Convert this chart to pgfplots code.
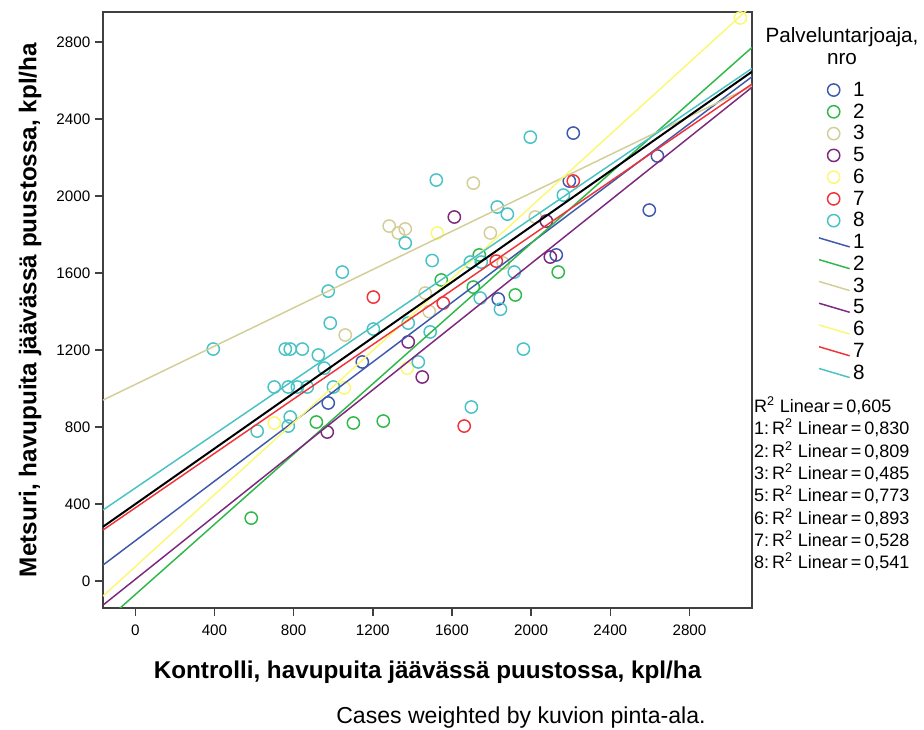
\documentclass[border=0pt]{standalone}
\usepackage{fontspec}
\setmainfont{Liberation Sans}
\usepackage{pgfplots}
\pgfplotsset{compat=1.18}
\definecolor{c1}{HTML}{3E58AC}
\definecolor{c2}{HTML}{2EB848}
\definecolor{c3}{HTML}{D3CE97}
\definecolor{c5}{HTML}{7C287D}
\definecolor{c6}{HTML}{FBF873}
\definecolor{c7}{HTML}{EF3338}
\definecolor{c8}{HTML}{48C2C5}
\definecolor{frame}{HTML}{404040}

% scatter data: kontrolli, metsuri (kpl/ha)
\pgfplotstableread{
x y
2213 2327
2638 2208
2597 1927
2193 2078
2127 1694
1834 1465
1147 1138
975 925
}\nroA
\pgfplotstableread{
x y
2137 1605
1738 1694
1546 1564
1708 1527
1920 1486
915 826
1102 821
1253 831
586 327
}\nroB
\pgfplotstableread{
x y
1283 1844
1329 1808
1364 1829
1708 2067
1794 1808
2021 1891
1859 1652
1465 1496
1061 1278
1485 1400
}\nroC
\pgfplotstableread{
x y
1612 1891
2077 1870
2097 1683
1379 1242
1450 1060
970 774
}\nroE
\pgfplotstableread{
x y
3057 2925
1526 1808
1374 1106
1056 1003
702 821
}\nroF
\pgfplotstableread{
x y
1203 1475
2213 2078
1824 1662
1556 1444
1662 805
}\nroG
\pgfplotstableread{
x y
1996 2306
1521 2083
1364 1756
1046 1605
975 1506
1500 1665
1829 1943
1880 1906
2163 2005
1693 1657
1748 1657
1915 1605
1743 1470
1845 1412
394 1205
758 1205
783 1205
844 1205
985 1340
1203 1309
1379 1340
925 1174
955 1106
1430 1138
702 1008
773 1008
819 1008
869 1008
1001 1008
783 852
773 805
616 779
1490 1294
1961 1205
1698 904
}\nroH

\pgfplotsset{
  pt/.style={only marks, mark=o, mark size=4.6pt, line width=1.1pt, draw=#1,
    legend image code/.code={\draw[##1] plot coordinates {(11pt,0pt)};}},
  fit/.style={#1, line width=1.1pt, no marks,
    legend image code/.code={\draw[##1] (0pt,3.4pt) -- (23pt,-3.4pt);}},
}

\begin{document}
\begin{tikzpicture}
\path[use as bounding box] (-77.25pt,-91.5pt) rectangle (615.75pt,456pt);
\begin{axis}[
  scale only axis,
  width=486.75pt, height=447pt,
  xmin=-163, xmax=3116, ymin=-140, ymax=2956,
  clip mode=individual,
  xtick={0,400,...,2800}, ytick={0,400,...,2800},
  xtick pos=bottom, ytick pos=left,
  tick align=outside, major tick length=6pt,
  tick style={frame, line width=1.1pt},
  axis line style={frame, line width=1.1pt},
  /pgf/number format/1000 sep={},
  /pgf/number format/assume math mode=true,
  tick label style={font=\fontsize{11.4}{13}\selectfont},
  xticklabel style={yshift=-3.5pt},
  xlabel={Kontrolli, havupuita jäävässä puustossa, kpl/ha},
  ylabel={Metsuri, havupuita jäävässä puustossa, kpl/ha},
  xlabel style={font=\bfseries\fontsize{18.2}{22}\selectfont,
    at={(axis description cs:0.5,-0.1074)}, anchor=center},
  ylabel style={font=\bfseries\fontsize{18.2}{22}\selectfont,
    at={(axis description cs:-0.1125,0.5)}, anchor=center},
  legend style={draw=none, fill=none, at={(axis description cs:1.1017,0.8831)},
    anchor=north west, inner sep=0pt, row sep=4.07pt,
    font=\fontsize{15.5}{18}\selectfont,
    nodes={inner xsep=2pt, inner ysep=0pt}},
  legend cell align=left,
]
\addplot[pt=c1] table {\nroA};
\addplot[pt=c2] table {\nroB};
\addplot[pt=c3] table {\nroC};
\addplot[pt=c5] table {\nroE};
\addplot[pt=c6] table {\nroF};
\addplot[pt=c7] table {\nroG};
\addplot[pt=c8] table {\nroH};

% fit lines, read at the axis edges
\addplot[fit=c1] coordinates {(-163,83) (3116,2620)};
\addplot[fit=c2] coordinates {(-163,-219) (3116,2772)};
\addplot[fit=c3] coordinates {(-163,940) (3116,2571)};
\addplot[fit=c5] coordinates {(-163,-125) (3116,2565)};
\addplot[fit=c6] coordinates {(-163,-78) (3116,2990)};
\addplot[fit=c7] coordinates {(-163,265) (3116,2582)};
\addplot[fit=c8] coordinates {(-163,369) (3116,2663)};
\addplot[black, line width=1.5pt, forget plot] coordinates {(-163,282) (3116,2646)};

\legend{1,2,3,5,6,7,8,1,2,3,5,6,7,8}

\node[font=\fontsize{15.5}{16.5}\selectfont, align=center]
  at (axis description cs:1.1387,0.943) {Palveluntarjoaja,\\nro};

\begin{scope}[every node/.style={anchor=west, inner sep=0pt, font=\fontsize{13.5}{16}\selectfont}]
\node at (axis description cs:1.0030,0.3389) {R\textsuperscript{2} Linear\,=\,0,605};
\node at (axis description cs:1.0030,0.3020) {1:\,R\textsuperscript{2} Linear\,=\,0,830};
\node at (axis description cs:1.0030,0.2634) {2:\,R\textsuperscript{2} Linear\,=\,0,809};
\node at (axis description cs:1.0030,0.2265) {3:\,R\textsuperscript{2} Linear\,=\,0,485};
\node at (axis description cs:1.0030,0.1896) {5:\,R\textsuperscript{2} Linear\,=\,0,773};
\node at (axis description cs:1.0030,0.1510) {6:\,R\textsuperscript{2} Linear\,=\,0,893};
\node at (axis description cs:1.0030,0.1141) {7:\,R\textsuperscript{2} Linear\,=\,0,528};
\node at (axis description cs:1.0030,0.0772) {8:\,R\textsuperscript{2} Linear\,=\,0,541};
\end{scope}

\node[font=\fontsize{17.3}{20}\selectfont] at (axis description cs:0.644,-0.1846)
  {Cases weighted by kuvion pinta-ala.};
\end{axis}
\end{tikzpicture}
\end{document}
